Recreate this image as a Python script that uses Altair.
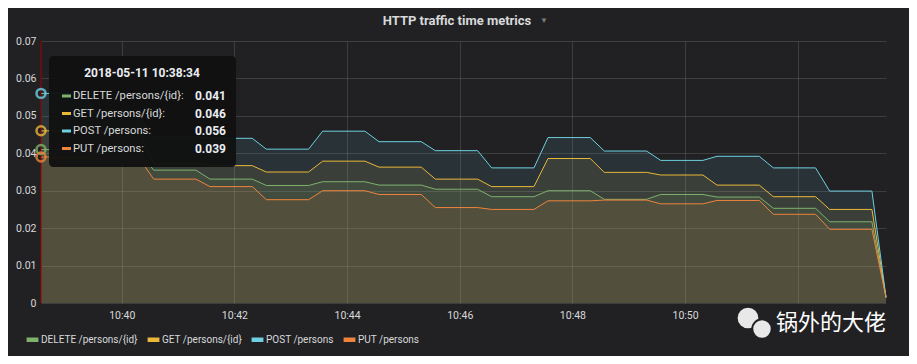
import altair as alt
import pandas as pd

# ---------------- data ----------------
series = ["DELETE /persons/{id}", "GET /persons/{id}", "POST /persons", "PUT /persons"]
colors = ["#7EB26D", "#EAB839", "#6ED0E0", "#EF843C"]

day = "2018-05-11"
block_starts = ["10:38:34", "10:39:34", "10:40:34", "10:41:34", "10:42:34",
                "10:43:34", "10:44:34", "10:45:34", "10:46:34", "10:47:34",
                "10:48:34", "10:49:34", "10:50:34", "10:51:34", "10:52:34"]
end_time = "10:53:34"

delete_vals = [0.041, 0.0405, 0.0355, 0.0331, 0.0314, 0.0324, 0.0315, 0.0304,
               0.0284, 0.0300, 0.0277, 0.0290, 0.0283, 0.0253, 0.0217]
get_vals = [0.046, 0.0455, 0.0372, 0.0367, 0.0350, 0.0379, 0.0363, 0.0331,
            0.0311, 0.0386, 0.0349, 0.0342, 0.0315, 0.0284, 0.0250]
post_vals = [0.056, 0.0500, 0.0443, 0.0440, 0.0411, 0.0459, 0.0431, 0.0407,
             0.0361, 0.0442, 0.0406, 0.0381, 0.0392, 0.0361, 0.0299]
put_vals = [0.039, 0.0385, 0.0331, 0.0311, 0.0276, 0.0300, 0.0290, 0.0255,
            0.0250, 0.0273, 0.0275, 0.0265, 0.0274, 0.0237, 0.0197]
end_vals = [0.0015, 0.0015, 0.0015, 0.0015]

y_ticks = [0, 0.01, 0.02, 0.03, 0.04, 0.05, 0.06, 0.07]
x_tick_times = ["10:40", "10:42", "10:44", "10:46", "10:48", "10:50", "10:52"]

title_text = "HTTP traffic time metrics"
watermark = "锅外的大佬"

# ---------------- build table ----------------
all_vals = [delete_vals, get_vals, post_vals, put_vals]
rows = []
for s, vals, ev in zip(series, all_vals, end_vals):
    for t, v in zip(block_starts, vals):
        t0 = pd.Timestamp(f"{day}T{t}")
        t1 = t0 + pd.Timedelta(seconds=45)
        rows.append({"time": t0.strftime("%Y-%m-%dT%H:%M:%SZ"), "value": v, "series": s})
        rows.append({"time": t1.strftime("%Y-%m-%dT%H:%M:%SZ"), "value": v, "series": s})
    te = pd.Timestamp(f"{day}T{end_time}")
    rows.append({"time": te.strftime("%Y-%m-%dT%H:%M:%SZ"), "value": ev, "series": s})
df = pd.DataFrame(rows)

hover_time = pd.Timestamp(f"{day}T{block_starts[0]}").strftime("%Y-%m-%dT%H:%M:%SZ")
hover_df = pd.DataFrame({"time": [hover_time] * 4, "series": series,
                         "value": [v[0] for v in all_vals]})


def dt(hms):
    h, m, *s = [int(p) for p in hms.split(":")]
    return alt.DateTime(year=2018, month=5, date=11, hours=h, minutes=m,
                        seconds=(s[0] if s else 0), utc=True)


W, H = 845, 262
FONT = "Roboto"
TXT = "#d8d9da"

xenc = alt.X("time:T", title=None,
             scale=alt.Scale(type="utc", domain=[dt(block_starts[0]), dt(end_time)]),
             axis=alt.Axis(values=[dt(t) for t in x_tick_times], format="%H:%M",
                           labelExpr="utcminutes(datum.value) == 52 ? '' : datum.label",
                           labelPadding=7, grid=True, labelOverlap=False))
yenc = alt.Y("value:Q", title=None, stack=None,
             scale=alt.Scale(domain=[0, 0.07], nice=False),
             axis=alt.Axis(values=y_ticks, format=".2~f", labelPadding=5, grid=True,
                           labelOverlap=False, labelBound=False, labelFlush=False))
cenc = alt.Color("series:N", scale=alt.Scale(domain=series, range=colors),
                 legend=alt.Legend(title=None, orient="none", legendX=-17, legendY=290,
                                   direction="horizontal", symbolType="stroke",
                                   symbolStrokeWidth=4.5, symbolSize=140,
                                   symbolOpacity=1, labelColor=TXT, labelFont=FONT,
                                   labelFontSize=10, columnPadding=0, padding=0,
                                   labelOffset=0))

base = alt.Chart(df)
area = base.mark_area(opacity=0.1, interpolate="linear").encode(x=xenc, y=yenc, color=cenc)
line = base.mark_line(strokeWidth=1).encode(x=xenc, y=yenc, color=cenc)

crosshair = alt.Chart(alt.Data(values=[{}])).mark_rule(color="#a00000", strokeWidth=1).encode(
    x=alt.datum(dt(block_starts[0])), y=alt.value(0), y2=alt.value(H))

hover = alt.Chart(hover_df).mark_point(shape="circle", filled=False, strokeWidth=2.5,
                                       size=80, opacity=0.8).encode(
    x=xenc, y=yenc, color=cenc)

one = alt.Data(values=[{}])
layers = [area, line, crosshair, hover]

# tooltip box (screen overlay)
layers.append(alt.Chart(one).mark_rect(color="#111111", cornerRadius=4, opacity=0.96).encode(
    x=alt.value(8), x2=alt.value(195), y=alt.value(15), y2=alt.value(126)))
layers.append(alt.Chart(one).mark_text(text=f"{day} {block_starts[0]}", font=FONT, fontSize=12,
                                       fontWeight="bold", color="#e9edf2", align="center",
                                       baseline="middle").encode(
    x=alt.value(101), y=alt.value(32)))
row_y = [55, 72.5, 90, 107.5]
for s, c, vals, ry in zip(series, colors, all_vals, row_y):
    layers.append(alt.Chart(one).mark_rule(color=c, strokeWidth=3).encode(
        x=alt.value(21), x2=alt.value(30), y=alt.value(ry), y2=alt.value(ry)))
    layers.append(alt.Chart(one).mark_text(text=s + ":", font=FONT, fontSize=11.2, color=TXT,
                                           align="left", baseline="middle").encode(
        x=alt.value(32), y=alt.value(ry)))
    layers.append(alt.Chart(pd.DataFrame({"v": [vals[0]]})).mark_text(
        font=FONT, fontSize=12, fontWeight="bold", color="#e9edf2", align="right",
        baseline="middle").encode(text=alt.Text("v:Q", format=".3f"),
                                  x=alt.value(185), y=alt.value(ry)))

# panel title and its caret
layers.append(alt.Chart(one).mark_text(text=title_text, font=FONT, fontSize=13,
                                       fontWeight="bold", color=TXT, align="center",
                                       baseline="middle").encode(
    x=alt.value(416), y=alt.value(-20)))
layers.append(alt.Chart(one).mark_text(text="▼", fontSize=8, color="#7b7b7b",
                                       baseline="middle", align="center").encode(
    x=alt.value(503), y=alt.value(-20)))

# watermark
layers.append(alt.Chart(one).mark_point(shape="circle", filled=True, color="#e8e8e8",
                                        size=430, opacity=1).encode(
    x=alt.value(707), y=alt.value(277)))
layers.append(alt.Chart(one).mark_point(shape="circle", filled=True, fill="#e8e8e8",
                                        stroke="#212124", strokeWidth=2, size=380,
                                        opacity=1).encode(
    x=alt.value(721), y=alt.value(288)))
layers.append(alt.Chart(one).mark_text(text=watermark, font="Noto Sans CJK SC", fontSize=22,
                                       color="#ffffff", align="center",
                                       baseline="middle").encode(
    x=alt.value(790), y=alt.value(282)))

chart = alt.layer(*layers).properties(
    width=W, height=H,
    autosize=alt.AutoSizeParams(type="none"),
    padding={"left": 33, "top": 33, "right": 23, "bottom": 53},
    background="#212124",
).configure_view(stroke=None).configure_axis(
    domain=False, ticks=False, labelColor=TXT, labelFont=FONT, labelFontSize=10.5,
    gridColor="#ffffff", gridOpacity=0.13, gridWidth=1, zindex=1, labelOverlap=False,
)

chart.save("out.html", embed_options={"renderer": "svg", "actions": False})
